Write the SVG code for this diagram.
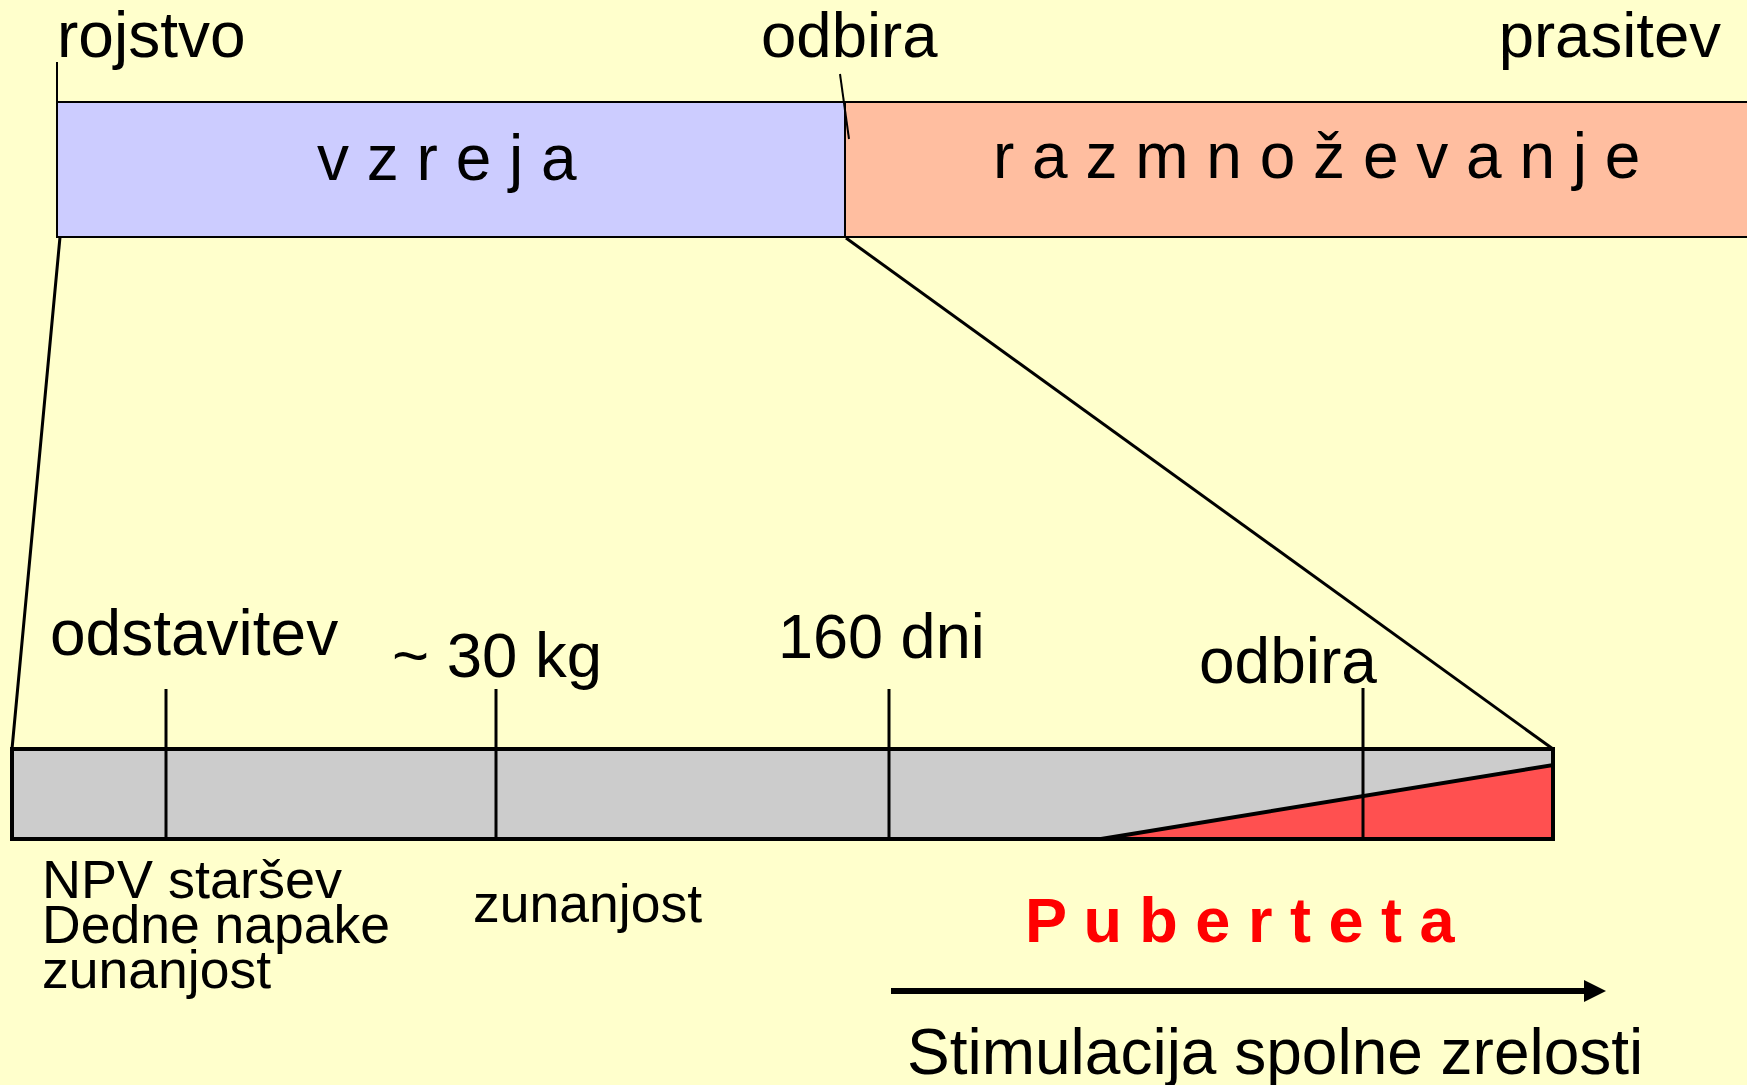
<svg xmlns="http://www.w3.org/2000/svg" width="1747" height="1085" viewBox="0 0 1747 1085">
<defs>
<style>
.t{font-family:"Liberation Sans",Arial,sans-serif;fill:#000}
.ln{stroke:#000;fill:none}
</style>
<marker id="ah" markerWidth="22" markerHeight="22" refX="0" refY="11" orient="auto" markerUnits="userSpaceOnUse">
<path d="M0,0 L22,11 L0,22 Z" fill="#000"/>
</marker>
</defs>
<rect width="1747" height="1085" fill="#FFFFCC"/>
<g id="top-bar">
<rect x="57" y="102" width="788" height="135" fill="#CCCCFF" stroke="#000" stroke-width="2"/>
<rect x="845" y="102" width="910" height="135" fill="#FFBEA0" stroke="#000" stroke-width="2"/>
<text class="t" x="317" y="180" font-size="64">v z r e j a</text>
<text class="t" x="993" y="178" font-size="64">r a z m n o ž e v a n j e</text>
</g>
<g id="top-labels">
<text class="t" x="57" y="57" font-size="64">rojstvo</text>
<text class="t" x="761" y="57" font-size="63.5">odbira</text>
<text class="t" x="1721" y="57" font-size="63.5" text-anchor="end">prasitev</text>
</g>
<g id="connectors">
<line class="ln" x1="57" y1="62" x2="57" y2="102" stroke-width="2"/>
<line class="ln" x1="840" y1="74" x2="849" y2="139" stroke-width="2"/>
<line class="ln" x1="60" y1="237" x2="12" y2="749" stroke-width="3"/>
<line class="ln" x1="846" y1="238" x2="1553" y2="749" stroke-width="3"/>
<line class="ln" x1="891" y1="991" x2="1584" y2="991" stroke-width="6" marker-end="url(#ah)"/>
</g>
<g id="lower-bar">
<rect x="12" y="749" width="1541" height="90" fill="#CCCCCC" stroke="#000" stroke-width="4"/>
<polygon points="1101,839 1553,765 1553,839" fill="#FF5050" stroke="#000" stroke-width="4" stroke-linejoin="miter"/>
<line class="ln" x1="166" y1="689" x2="166" y2="839" stroke-width="3"/>
<line class="ln" x1="496" y1="689" x2="496" y2="839" stroke-width="3"/>
<line class="ln" x1="889" y1="689" x2="889" y2="839" stroke-width="3"/>
<line class="ln" x1="1363" y1="688" x2="1363" y2="839" stroke-width="3"/>
<rect x="12" y="749" width="1541" height="90" fill="none" stroke="#000" stroke-width="4"/>
</g>
<g id="lower-labels">
<text class="t" x="50" y="655" font-size="64">odstavitev</text>
<text class="t" x="392" y="677" font-size="63.5">~ 30 kg</text>
<text class="t" x="778" y="658" font-size="63">160 dni</text>
<text class="t" x="1199" y="683" font-size="64">odbira</text>
<text class="t" x="42" y="898" font-size="54">NPV staršev</text>
<text class="t" x="42" y="943" font-size="53.5">Dedne napake</text>
<text class="t" x="42" y="988" font-size="53.5">zunanjost</text>
<text class="t" x="473" y="922" font-size="53.5">zunanjost</text>
</g>
<g id="puberteta">
<text x="1025" y="942" font-size="63" font-weight="bold" font-family="Liberation Sans,Arial,sans-serif" fill="#FF0000">P u b e r t e t a</text>
<text class="t" x="907" y="1074" font-size="64">Stimulacija spolne zrelosti</text>
</g>
</svg>
